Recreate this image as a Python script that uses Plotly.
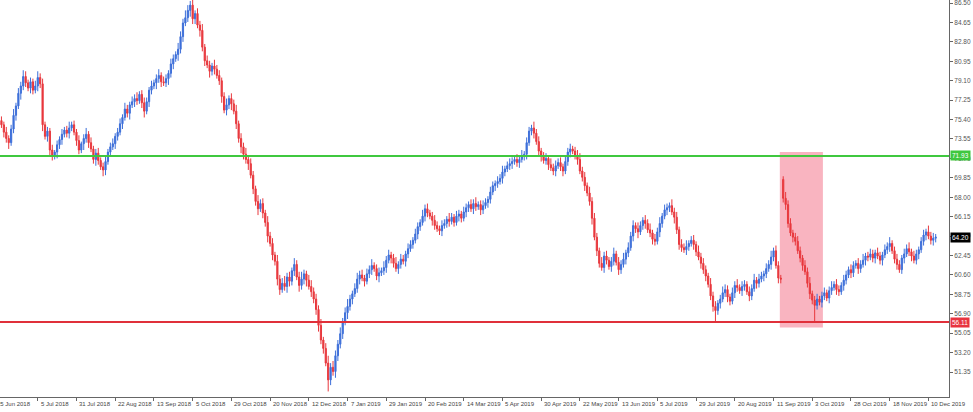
import plotly.graph_objects as go

# ---- data (daily bars) ----
close = [
    74.9, 74.2, 73.6, 73.2, 74.5, 75.8, 76.7, 77.9, 78.6, 79.5,
    78.9, 78.4, 79.0, 78.2, 78.6, 79.4, 78.8, 74.9, 73.8, 74.3,
    72.5, 71.9, 72.3, 73.0, 73.5, 74.0, 74.4, 74.1, 74.6, 74.9,
    74.2, 73.4, 72.5, 73.1, 73.6, 74.0, 73.2, 72.6, 71.6, 72.2,
    71.5, 70.9, 70.6, 71.4, 72.3, 72.8, 73.1, 73.8, 74.2, 75.0,
    75.6, 76.4, 76.0, 76.8, 77.1, 77.4, 77.2, 77.8, 77.0, 76.2,
    77.1, 78.2, 78.6, 78.9, 79.3, 79.6, 79.0, 78.9, 79.3, 79.8,
    80.7, 81.2, 81.6, 82.1, 83.3, 84.6, 85.1, 85.8, 86.3, 85.0,
    85.5, 84.4, 83.9, 82.3, 81.0, 80.6, 80.0, 80.5, 80.2, 79.6,
    79.1, 77.6, 76.3, 76.8, 77.4, 76.9, 76.2, 75.0, 73.6, 72.8,
    72.1, 71.6, 71.2, 70.1, 68.8, 67.6, 66.9, 67.4, 66.5, 65.6,
    64.3, 63.6, 62.5, 61.9, 60.2, 59.2, 59.8, 59.5, 60.4, 60.0,
    61.0, 61.6, 60.4, 59.6, 60.2, 60.7, 60.1, 59.5, 59.0, 58.3,
    57.3, 55.8, 54.4, 53.6, 52.2, 50.6, 51.8, 51.4, 52.9, 54.0,
    55.0, 56.1, 57.0, 57.6, 58.3, 58.8, 59.3, 60.2, 60.6, 60.3,
    60.0, 60.7, 61.1, 61.5, 61.2, 60.5, 60.8, 61.0, 61.3, 62.0,
    62.5, 62.2, 61.7, 61.2, 61.6, 62.1, 61.9, 62.6, 63.1, 63.5,
    63.9, 64.5, 65.2, 65.6, 66.2, 66.9, 66.5, 66.2, 65.8, 65.3,
    65.0, 64.8, 65.3, 65.5, 65.9, 65.7, 66.1, 65.6, 66.2, 66.4,
    66.0, 66.6, 67.0, 67.3, 66.9, 67.4, 67.1, 67.3, 66.8, 67.2,
    67.5, 67.8, 68.5, 69.1, 69.3, 69.5, 69.8, 70.4, 70.7, 71.0,
    71.2, 71.4, 71.6, 71.3, 71.6, 71.9, 72.1, 73.2, 74.3, 74.6,
    74.1, 73.3, 72.4, 71.9, 71.5, 71.7, 71.1, 70.8, 70.5, 71.0,
    71.3, 70.9, 70.5, 71.4, 72.3, 72.6, 72.4, 72.0, 71.6, 70.5,
    69.9, 69.1, 68.4, 67.6, 66.0, 64.2, 62.9, 61.7, 61.3, 62.4,
    62.0, 61.4, 61.9, 62.6, 61.8, 61.1, 61.6, 62.1, 62.7, 63.2,
    64.3, 65.3, 65.0, 64.7, 65.3, 65.8, 65.5, 64.9, 64.6, 64.0,
    63.8, 64.7, 65.5, 66.2, 66.8, 67.0, 67.2, 66.6, 66.1, 64.9,
    63.5, 63.2, 63.0, 63.3, 63.6, 63.9, 63.5, 62.8, 62.3, 61.7,
    61.1, 60.5, 59.7, 58.6, 57.6, 57.2, 57.9, 58.3, 58.9, 59.2,
    58.5, 58.1, 58.9, 59.6, 59.4, 59.1, 59.5, 59.7, 59.0, 58.6,
    59.3, 60.1, 59.8, 60.2, 60.5, 60.7, 61.2, 61.6, 62.3, 62.9,
    61.5, 60.3, 60.2, 67.9, 67.3, 65.5, 64.6, 64.2, 63.8, 62.9,
    62.2, 61.5, 60.9, 59.8, 58.8, 58.2, 57.7, 58.3, 58.0, 58.6,
    58.9, 58.4, 59.1, 59.4, 59.7, 59.2, 59.0, 59.6, 60.1, 60.6,
    61.1, 60.8, 61.5, 61.7, 61.2, 61.6, 62.0, 62.4, 62.3, 62.6,
    62.2, 62.7, 62.4, 62.0, 62.5, 63.0, 63.3, 63.6, 62.9, 62.1,
    61.6, 61.1, 62.2, 62.6, 63.1, 62.8, 62.4, 62.0, 62.6, 63.0,
    63.8, 64.4, 64.7, 64.3, 63.9, 64.1, 64.2,
]

# upper / lower shadow lengths, in tenths of a dollar
wick_hi = [
    4, 3, 5, 3, 4, 6, 3, 5, 4, 6,  5, 3, 4, 3, 5, 6, 4, 5, 3, 4,
    3, 5, 2, 4, 3, 5, 3, 4, 6, 3,  4, 3, 5, 2, 4, 6, 3, 5, 3, 4,
    5, 3, 4, 6, 3, 4, 5, 3, 4, 5,  3, 6, 4, 3, 5, 4, 6, 3, 4, 5,
    4, 3, 5, 3, 4, 6, 3, 5, 4, 3,  5, 4, 3, 6, 5, 4, 7, 5, 4, 6,
    3, 5, 4, 6, 3, 5, 4, 3, 6, 4,  5, 3, 4, 6, 3, 5, 4, 6, 3, 5,
    4, 6, 3, 5, 4, 3, 6, 4, 5, 3,  6, 4, 5, 3, 6, 4, 5, 7, 4, 5,
    3, 6, 4, 5, 7, 4, 3, 5, 6, 4,  5, 4, 6, 3, 5, 7, 4, 6, 5, 4,
    6, 4, 5, 7, 4, 3, 5, 6, 4, 5,  3, 5, 4, 6, 3, 4, 5, 3, 6, 4,
    5, 3, 4, 6, 3, 5, 4, 3, 5, 4,  3, 5, 4, 3, 6, 4, 5, 3, 4, 5,
    4, 3, 5, 4, 3, 6, 4, 3, 5, 4,  3, 5, 4, 3, 5, 4, 6, 3, 4, 5,
    4, 3, 5, 4, 3, 5, 4, 6, 3, 4,  5, 4, 3, 5, 4, 6, 3, 5, 4, 3,
    6, 4, 5, 3, 4, 5, 3, 6, 4, 5,  4, 5, 3, 6, 4, 5, 3, 4, 5, 6,
    4, 5, 3, 6, 4, 5, 4, 3, 6, 4,  5, 3, 4, 6, 3, 5, 4, 6, 3, 5,
    4, 5, 3, 6, 4, 3, 5, 4, 6, 3,  5, 4, 6, 3, 5, 4, 3, 6, 4, 5,
    3, 5, 4, 6, 3, 4, 5, 3, 6, 4,  5, 4, 3, 6, 4, 5, 3, 4, 6, 5,
    4, 3, 5, 4, 6, 3, 5, 4, 3, 5,  4, 6, 3, 5, 4, 3, 5, 4, 6, 3,
    5, 4, 3, 3, 6, 4, 5, 3, 4, 5,  4, 3, 5, 4, 6, 3, 4, 5, 3, 4,
    5, 3, 4, 6, 3, 5, 4, 3, 5, 4,  3, 5, 4, 3, 5, 4, 6, 3, 4, 5,
    4, 3, 5, 4, 3, 5, 4, 6, 3, 4,  5, 4, 3, 5, 4, 6, 3, 5, 4, 3,
    4, 5, 3, 6, 4, 5, 3,
]
wick_lo = [
    3, 5, 4, 6, 3, 4, 5, 3, 6, 4,  4, 3, 5, 4, 3, 5, 4, 6, 3, 5,
    5, 4, 3, 6, 4, 5, 3, 4, 5, 3,  3, 5, 4, 3, 6, 4, 5, 3, 4, 6,
    4, 3, 6, 5, 3, 4, 3, 5, 4, 3,  5, 3, 4, 6, 3, 5, 4, 3, 5, 6,
    3, 5, 4, 3, 6, 4, 5, 3, 4, 6,  4, 5, 3, 6, 4, 5, 3, 4, 6, 5,
    5, 3, 6, 4, 5, 3, 6, 4, 5, 3,  4, 6, 3, 5, 4, 6, 3, 5, 4, 6,
    5, 4, 6, 3, 5, 4, 6, 3, 5, 4,  6, 3, 5, 4, 6, 5, 3, 4, 6, 5,
    4, 5, 3, 6, 4, 5, 6, 3, 5, 4,  5, 6, 4, 5, 3, 11, 5, 4, 6, 5,
    4, 5, 3, 6, 4, 5, 3, 4, 5, 3,  5, 3, 4, 5, 3, 4, 6, 3, 4, 5,
    3, 5, 4, 3, 5, 4, 3, 5, 4, 3,  4, 3, 5, 4, 3, 5, 4, 3, 5, 4,
    3, 4, 5, 3, 4, 5, 3, 4, 3, 5,  4, 3, 5, 4, 3, 5, 4, 3, 5, 4,
    3, 5, 4, 3, 5, 4, 3, 5, 4, 3,  4, 5, 3, 4, 5, 3, 4, 5, 3, 4,
    5, 3, 4, 5, 3, 4, 5, 3, 4, 5,  3, 4, 5, 3, 4, 5, 3, 4, 5, 3,
    4, 5, 3, 4, 6, 3, 5, 4, 3, 5,  4, 3, 5, 4, 3, 5, 4, 3, 5, 4,
    3, 5, 4, 6, 3, 4, 5, 3, 4, 5,  4, 3, 5, 4, 3, 5, 4, 3, 6, 4,
    5, 4, 3, 5, 4, 3, 5, 4, 3, 5,  4, 5, 3, 4, 5, 11, 4, 5, 3, 4,
    5, 4, 3, 5, 4, 3, 5, 4, 3, 5,  4, 3, 5, 4, 3, 5, 4, 3, 5, 4,
    3, 5, 4, 4, 5, 4, 3, 5, 4, 3,  4, 5, 3, 4, 5, 4, 15, 4, 3, 5,
    4, 3, 5, 4, 3, 5, 4, 3, 5, 4,  3, 5, 4, 3, 5, 4, 3, 5, 4, 3,
    4, 5, 3, 4, 5, 3, 4, 5, 3, 4,  5, 3, 4, 5, 3, 4, 5, 3, 4, 5,
    3, 4, 5, 3, 4, 5, 4,
]
first_open = 75.3
gap_opens = {323: 69.7}          # weekend gap (bar index -> open)

date_labels = [
    "5 Jul 2018", "31 Jul 2018", "22 Aug 2018", "13 Sep 2018", "5 Oct 2018",
    "29 Oct 2018", "20 Nov 2018", "12 Dec 2018", "7 Jan 2019", "29 Jan 2019",
    "20 Feb 2019", "14 Mar 2019", "5 Apr 2019", "30 Apr 2019", "22 May 2019",
    "13 Jun 2019", "5 Jul 2019", "29 Jul 2019", "20 Aug 2019", "11 Sep 2019",
    "3 Oct 2019", "28 Oct 2019", "18 Nov 2019", "10 Dec 2019",
]
first_date_label = "25 Jun 2018"
bars_per_label = 16
first_label_bar = 15

price_ticks = [86.50, 84.65, 82.80, 80.95, 79.10, 77.25, 75.40, 73.55, 71.70, 69.85,
               68.00, 66.15, 64.30, 62.45, 60.60, 58.75, 56.90, 55.05, 53.20, 51.35]

resistance = 71.93
support = 56.11
zone_bars = (321.6, 339.4)
zone_prices = (55.6, 72.3)

# ---- build OHLC ----
n = len(close)
opens = [first_open] + close[:-1]
for k, v in gap_opens.items():
    opens[k] = v
highs = [max(o, c) + w / 10 for o, c, w in zip(opens, close, wick_hi)]
lows = [min(o, c) - w / 10 for o, c, w in zip(opens, close, wick_lo)]
idx = list(range(n))

BLUE = "#3d6fd9"
RED = "#e8383d"

fig = go.Figure(go.Candlestick(
    x=idx, open=opens, high=highs, low=lows, close=close,
    increasing=dict(line=dict(color=BLUE, width=1), fillcolor=BLUE),
    decreasing=dict(line=dict(color=RED, width=1), fillcolor=RED),
    whiskerwidth=0, showlegend=False, hoverinfo="skip",
))

tick_bars = [first_label_bar + bars_per_label * k for k in range(len(date_labels))]

font_fam = "Liberation Sans, Arial, sans-serif"
annotations = []
for tb, lab in zip(tick_bars, date_labels):
    annotations.append(dict(x=tb, xref="x", y=0, yref="paper", yanchor="top",
                            xanchor="left", xshift=1, yshift=-2, text=lab, showarrow=False,
                            font=dict(size=6, color="#444", family=font_fam)))
annotations.append(dict(x=0, xref="paper", y=0, yref="paper", yanchor="top",
                        xanchor="left", xshift=-5, yshift=-2, text=first_date_label,
                        showarrow=False, font=dict(size=6, color="#444", family=font_fam)))

for val, bg in [(resistance, "#3fc83f"), (support, "#e8343f"), (close[-1], "#000000")]:
    annotations.append(dict(x=1, xref="paper", y=val, yref="y", xanchor="left", xshift=1,
                            text=f"{val:.2f}", showarrow=False, bgcolor=bg, borderpad=1,
                            font=dict(size=6.5, color="white", family=font_fam)))

shapes = [
    dict(type="rect", xref="x", yref="y", x0=zone_bars[0], x1=zone_bars[1],
         y0=zone_prices[0], y1=zone_prices[1], fillcolor="#f9b4c0",
         line=dict(width=0), layer="below"),
    dict(type="line", xref="paper", yref="y", x0=0, x1=1, y0=resistance, y1=resistance,
         line=dict(color="#3fc83f", width=2)),
    dict(type="line", xref="paper", yref="y", x0=0, x1=1, y0=support, y1=support,
         line=dict(color="#e0303a", width=2)),
]

fig.update_layout(
    width=973, height=412,
    margin=dict(l=0, r=24, t=0, b=15),
    paper_bgcolor="white", plot_bgcolor="white",
    font=dict(family=font_fam, size=6.5, color="#555"),
    xaxis=dict(range=[-0.6, 391.5], rangeslider=dict(visible=False), showgrid=False,
               zeroline=False, showline=True, linecolor="#666", linewidth=1,
               tickvals=tick_bars, showticklabels=False, ticks="outside", ticklen=3,
               tickcolor="#666"),
    yaxis=dict(side="right", range=[48.97, 86.79], showgrid=False, zeroline=False,
               showline=True, linecolor="#666", linewidth=1, tickvals=price_ticks,
               ticktext=[f"{t:.2f}" for t in price_ticks], ticks="outside", ticklen=3,
               tickcolor="#666", tickfont=dict(size=6.5, color="#555"), automargin=False,
               ticklabeloverflow="allow"),
    shapes=shapes, annotations=annotations,
)

fig.write_html("out.html", config={"displayModeBar": False},
               post_script="document.body.style.margin='0';document.body.style.overflow='hidden';")
